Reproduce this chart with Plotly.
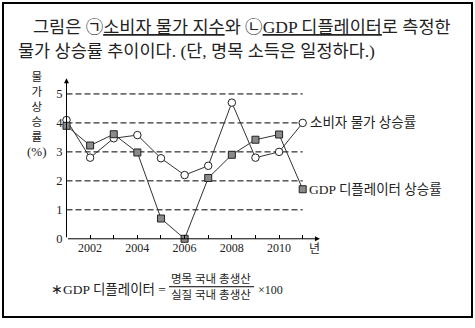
import plotly.graph_objects as go

years = [2001, 2002, 2003, 2004, 2005, 2006, 2007, 2008, 2009, 2010, 2011]
cpi = [4.1, 2.8, 3.47, 3.58, 2.78, 2.2, 2.52, 4.7, 2.8, 3.0, 4.0]
gdp_deflator = [3.9, 3.22, 3.61, 2.98, 0.7, 0.0, 2.1, 2.9, 3.42, 3.6, 1.71]
x_tick_vals = [2002, 2004, 2006, 2008, 2010]
y_tick_vals = [0, 1, 2, 3, 4, 5]
grid_levels = [1, 2, 3, 4, 5]

W, H = 475, 328
def px(x):
    return x / W
def py(y):
    return 1 - y / H

SERIF = "Liberation Serif, Noto Sans CJK KR, serif"
KR = "Noto Sans CJK KR, sans-serif"
TXT = "#222222"

fig = go.Figure()

fig.add_trace(go.Scatter(
    x=years, y=cpi, mode="lines+markers", name="소비자 물가 상승률",
    line=dict(color="#333333", width=1),
    marker=dict(symbol="circle", size=7.5, color="white", line=dict(color="#222222", width=1)),
    cliponaxis=False))
fig.add_trace(go.Scatter(
    x=years, y=gdp_deflator, mode="lines+markers", name="GDP 디플레이터 상승률",
    line=dict(color="#333333", width=1),
    marker=dict(symbol="square", size=7, color="#8a8a8a", line=dict(color="#222222", width=1)),
    cliponaxis=False))

# dashed reference lines
for g in grid_levels:
    fig.add_shape(type="line", xref="x", yref="y", x0=years[0], x1=years[-1], y0=g, y1=g,
                  line=dict(color="black", width=1, dash="6px,3px"), layer="below")

# border
fig.add_shape(type="rect", xref="paper", yref="paper", x0=px(3), x1=px(472), y0=py(324), y1=py(3),
              line=dict(color="black", width=2))

ann = []
# axes arrows
ann.append(dict(x=2011.73, y=0, ax=2001, ay=0, xref="x", yref="y", axref="x", ayref="y",
                showarrow=True, arrowhead=2, arrowsize=1, arrowwidth=1, arrowcolor="black", text=""))
ann.append(dict(x=2001, y=5.54, ax=2001, ay=0, xref="x", yref="y", axref="x", ayref="y",
                showarrow=True, arrowhead=2, arrowsize=1, arrowwidth=1, arrowcolor="black", text=""))

# title
ann.append(dict(x=px(31), y=py(28), xref="paper", yref="paper", xanchor="left", yanchor="middle",
                showarrow=False, font=dict(family=SERIF, size=17.5, color=TXT),
                text="그림은 ㉠<u>소비자 물가 지수</u>와 ㉡<u>GDP 디플레이터</u>로 측정한"))
ann.append(dict(x=px(16), y=py(52), xref="paper", yref="paper", xanchor="left", yanchor="middle",
                showarrow=False, font=dict(family=SERIF, size=17.5, color=TXT),
                text="물가 상승률 추이이다. (단, 명목 소득은 일정하다.)"))

# y axis label, stacked
ann.append(dict(x=px(37), y=py(118), xref="paper", yref="paper", xanchor="center", yanchor="middle",
                showarrow=False, align="center", font=dict(family=SERIF, size=11.5, color=TXT),
                text="물<br>가<br>상<br>승<br>률<br><span style='font-size:13px'>(%)</span>"))

# x axis unit
ann.append(dict(x=px(314), y=py(253), xref="paper", yref="paper", xanchor="center", yanchor="middle",
                showarrow=False, font=dict(family=KR, size=12, color=TXT), text="년"))

# series labels
ann.append(dict(x=years[-1], y=cpi[-1], xref="x", yref="y", xanchor="left", yanchor="middle", xshift=5,
                showarrow=False, font=dict(family=SERIF, size=13.5, color=TXT), text="소비자 물가 상승률"))
ann.append(dict(x=years[-1], y=gdp_deflator[-1], xref="x", yref="y", xanchor="left", yanchor="middle", xshift=4,
                showarrow=False, font=dict(family=SERIF, size=13.5, color=TXT), text="GDP 디플레이터 상승률"))

# formula
ann.append(dict(x=px(168), y=py(296), xref="paper", yref="paper", xanchor="right", yanchor="middle",
                showarrow=False, font=dict(family=SERIF, size=13.5, color=TXT), text="∗GDP 디플레이터 ="))
ann.append(dict(x=px(211), y=py(285), xref="paper", yref="paper", xanchor="center", yanchor="middle",
                showarrow=False, font=dict(family=SERIF, size=11.5, color=TXT), text="명목 국내 총생산"))
ann.append(dict(x=px(211), y=py(301), xref="paper", yref="paper", xanchor="center", yanchor="middle",
                showarrow=False, font=dict(family=SERIF, size=11.5, color=TXT), text="실질 국내 총생산"))
ann.append(dict(x=px(256), y=py(296), xref="paper", yref="paper", xanchor="left", yanchor="middle",
                showarrow=False, font=dict(family=SERIF, size=12, color=TXT), text="×100"))
fig.add_shape(type="line", xref="paper", yref="paper", x0=px(169), x1=px(254), y0=py(293), y1=py(293),
              line=dict(color="black", width=1))

fig.update_layout(
    width=W, height=H, margin=dict(l=0, r=0, t=0, b=0),
    paper_bgcolor="white", plot_bgcolor="white", showlegend=False,
    annotations=ann,
    xaxis=dict(domain=[px(66.5), px(66.5 + 11 * 23.62)], range=[2001, 2012],
               showgrid=False, zeroline=False, showline=False,
               tickmode="array", tickvals=years, ticktext=[str(y) if y in x_tick_vals else "" for y in years],
               ticks="inside", ticklen=4, tickcolor="black", tickwidth=1,
               tickfont=dict(family=SERIF, size=12, color=TXT)),
    yaxis=dict(domain=[py(244), py(244 - 5.6 * 29.6)], range=[0, 5.6],
               showgrid=False, zeroline=False, showline=False,
               tickmode="array", tickvals=y_tick_vals, ticks="", ticklabelstandoff=3,
               tickfont=dict(family=SERIF, size=12.5, color=TXT)),
)

fig.write_html("out.html")
